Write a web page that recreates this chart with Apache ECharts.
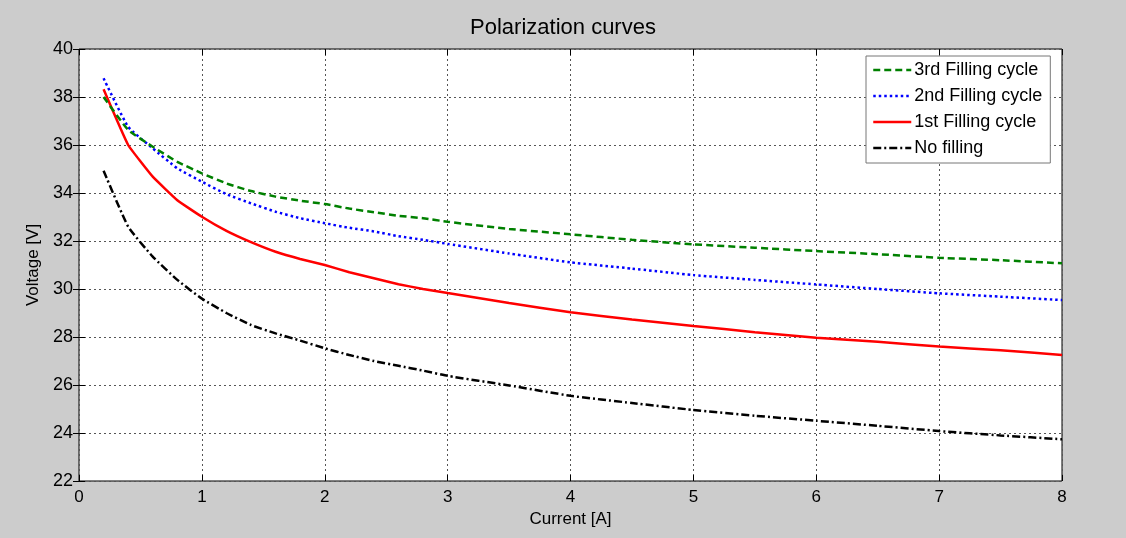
<!DOCTYPE html>
<html>
<head>
<meta charset="utf-8">
<script src="https://cdn.jsdelivr.net/npm/echarts@6/dist/echarts.min.js"></script>
<style>
  html, body { margin: 0; padding: 0; background: #fff; }
  #chart { width: 1126px; height: 538px; }
</style>
</head>
<body>
<div id="chart"></div>
<script>
// current [A]
const current = [0.2, 0.4, 0.6, 0.8, 1.0, 1.2, 1.4, 1.6, 1.8, 2.0, 2.2, 2.4, 2.6, 2.8, 3.0, 3.5, 4.0, 4.5, 5.0, 5.5, 6.0, 6.5, 7.0, 7.5, 8.0];
// voltage [V]
const fill3 = [38.0, 36.63, 35.93, 35.3, 34.82, 34.4, 34.08, 33.85, 33.68, 33.54, 33.35, 33.2, 33.05, 32.95, 32.8, 32.5, 32.28, 32.05, 31.86, 31.72, 31.58, 31.45, 31.3, 31.2, 31.07];
const fill2 = [38.78, 36.76, 35.86, 35.03, 34.47, 33.95, 33.57, 33.22, 32.95, 32.74, 32.55, 32.4, 32.2, 32.05, 31.88, 31.48, 31.11, 30.85, 30.58, 30.38, 30.19, 30.0, 29.82, 29.68, 29.54];
const fill1 = [38.32, 36.0, 34.68, 33.7, 33.01, 32.42, 31.95, 31.55, 31.25, 31.0, 30.7, 30.45, 30.2, 30.0, 29.83, 29.42, 29.03, 28.73, 28.46, 28.2, 27.97, 27.8, 27.6, 27.45, 27.25];
const noFill = [34.93, 32.6, 31.35, 30.38, 29.6, 29.0, 28.5, 28.15, 27.85, 27.53, 27.25, 27.0, 26.8, 26.6, 26.38, 25.98, 25.55, 25.25, 24.96, 24.72, 24.51, 24.3, 24.08, 23.9, 23.74];

const font = "Liberation Sans";

function pairs(ys) {
  return current.map((x, i) => [x, ys[i]]);
}

const chart = echarts.init(document.getElementById("chart"));

const tickIn = { show: true, inside: true, length: 6, lineStyle: { color: "#000" } };
const gridLine = { show: true, lineStyle: { color: "#555", type: [2, 3], width: 1 } };

chart.setOption({
  backgroundColor: "#cccccc",
  animation: false,
  title: {
    text: "Polarization curves",
    left: "center",
    top: 12,
    textStyle: { fontFamily: font, fontSize: 22, fontWeight: "normal", color: "#000" }
  },
  grid: {
    left: 79,
    right: 64,
    top: 49,
    bottom: 57,
    show: true,
    backgroundColor: "#fff",
    borderColor: "#000",
    borderWidth: 1
  },
  legend: {
    orient: "vertical",
    left: 866,
    top: 56,
    padding: [5, 8, 6, 6],
    itemGap: 8,
    itemWidth: 38,
    itemHeight: 18,
    backgroundColor: "#fff",
    borderColor: "#777",
    borderWidth: 1,
    borderRadius: 0,
    itemStyle: { opacity: 0 },
    lineStyle: { width: 2.5 },
    textStyle: { fontFamily: font, fontSize: 18, color: "#000", padding: [0, 0, 0, -2] },
    data: ["3rd Filling cycle", "2nd Filling cycle", "1st Filling cycle", "No filling"]
  },
  xAxis: [
    {
      type: "value",
      min: 0,
      max: 8,
      interval: 1,
      name: "Current [A]",
      nameLocation: "middle",
      nameGap: 30,
      nameTextStyle: { fontFamily: font, fontSize: 17, color: "#000" },
      axisLine: { show: false },
      axisTick: tickIn,
      axisLabel: { fontFamily: font, fontSize: 17, color: "#000", margin: 8 },
      splitLine: gridLine
    },
    {
      type: "value",
      position: "top",
      min: 0,
      max: 8,
      interval: 1,
      axisLine: { show: false },
      axisTick: tickIn,
      axisLabel: { show: false },
      splitLine: { show: false }
    }
  ],
  yAxis: [
    {
      type: "value",
      min: 22,
      max: 40,
      interval: 2,
      name: "Voltage [V]",
      nameLocation: "middle",
      nameGap: 33,
      nameTextStyle: { fontFamily: font, fontSize: 17, color: "#000" },
      axisLine: { show: false },
      axisTick: tickIn,
      axisLabel: { fontFamily: font, fontSize: 18, color: "#000", margin: 6 },
      splitLine: gridLine
    },
    {
      type: "value",
      position: "right",
      min: 22,
      max: 40,
      interval: 2,
      axisLine: { show: false },
      axisTick: tickIn,
      axisLabel: { show: false },
      splitLine: { show: false }
    }
  ],
  series: [
    {
      name: "3rd Filling cycle",
      type: "line",
      data: pairs(fill3),
      symbol: "none",
      smooth: 0.15,
      lineStyle: { color: "#008000", width: 2.5, type: [7, 4] },
      itemStyle: { color: "#008000" },
      z: 4
    },
    {
      name: "2nd Filling cycle",
      type: "line",
      data: pairs(fill2),
      symbol: "none",
      smooth: 0.15,
      lineStyle: { color: "#0000ff", width: 2.5, type: [2.5, 3] },
      itemStyle: { color: "#0000ff" },
      z: 3
    },
    {
      name: "1st Filling cycle",
      type: "line",
      data: pairs(fill1),
      symbol: "none",
      smooth: 0.1,
      lineStyle: { color: "#ff0000", width: 2.5 },
      itemStyle: { color: "#ff0000" },
      z: 2
    },
    {
      name: "No filling",
      type: "line",
      data: pairs(noFill),
      symbol: "none",
      smooth: 0.15,
      lineStyle: { color: "#000", width: 2.5, type: [8, 3, 2, 3] },
      itemStyle: { color: "#000" },
      z: 1
    }
  ]
});
</script>
</body>
</html>
